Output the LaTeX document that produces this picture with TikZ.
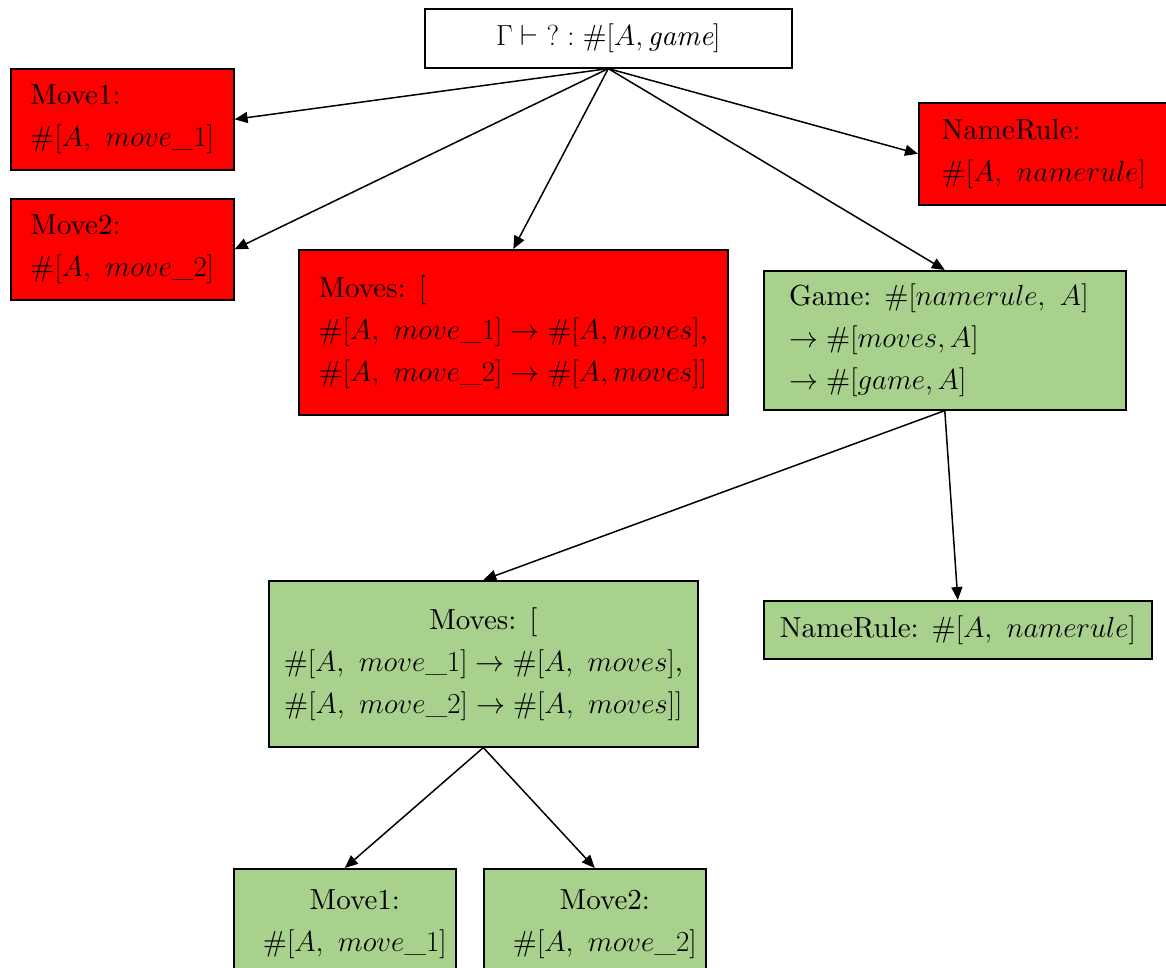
\documentclass[tikz,border=0pt]{standalone}
\usepackage{fix-cm}
\usepackage{fontspec}
\setmainfont{lmroman10-regular}[Extension=.otf, ItalicFont=lmroman10-italic, BoldFont=lmroman10-bold]
\usetikzlibrary{arrows.meta}
\definecolor{okgreen}{RGB}{169,209,142}
\begin{document}
\begin{tikzpicture}[x=1pt,y=-1pt,
  box/.style={draw=black, line width=1.6pt, rectangle, inner sep=0pt,
    anchor=north west, font=\fontsize{29}{42}\selectfont},
  redbox/.style={box, fill=red},
  greenbox/.style={box, fill=okgreen},
  link/.style={line width=1.5pt, -{Triangle[length=13pt,width=11pt]}}]
\useasboundingbox (0,0) rectangle (1166,967);

% goal
\node[box, fill=white, minimum width=367pt, minimum height=59pt] (goal) at (424,8)
  {$\Gamma\vdash {?} : \#[A, \mathit{game}]$};

% failed branches
\node[redbox, minimum width=223pt, minimum height=101pt, align=left] (m1r) at (10,68)
  {Move1:\\ $\#[A,\ move\_1]$};
\node[redbox, minimum width=223pt, minimum height=101pt, align=left] (m2r) at (10,198)
  {Move2:\\ $\#[A,\ move\_2]$};
\node[redbox, minimum width=429pt, minimum height=165pt, align=left] (msr) at (298,249)
  {Moves: [\\ $\#[A,\ move\_1] \rightarrow \#[A, moves]$,\\ $\#[A,\ move\_2] \rightarrow \#[A, moves]]$};
\node[redbox, minimum width=260pt, minimum height=102pt, align=left] (nrr) at (918,102)
  {NameRule:\\ $\#[A,\ namerule]$\hspace*{10pt}};

% successful branches
\node[greenbox, minimum width=362pt, minimum height=139pt, align=left] (game) at (763,270)
  {Game: $\#\bigl[namerule,\ A\bigr]$\hspace*{12pt}\\ $\rightarrow \#[moves, A]$\\ $\rightarrow \#[game, A]$};
\node[greenbox, minimum width=429pt, minimum height=166pt, align=center] (msg) at (268,580)
  {Moves: [\\ $\#[A,\ move\_1] \rightarrow \#\bigl[A,\ moves\bigr]$,\\ $\#[A,\ move\_2] \rightarrow \#\bigl[A,\ moves\bigr]]$};
\node[greenbox, minimum width=388pt, minimum height=58pt] (nrg) at (763,600)
  {NameRule: $\#[A,\ namerule]$};
\node[greenbox, minimum width=222pt, minimum height=110pt, align=center] (m1g) at (233,868)
  {\hspace*{20pt}Move1:\\ \hspace*{20pt}$\#[A,\ move\_1]$};
\node[greenbox, minimum width=222pt, minimum height=110pt, align=center] (m2g) at (483,868)
  {\hspace*{20pt}Move2:\\ \hspace*{20pt}$\#[A,\ move\_2]$};

% connectors
\draw[link] (goal.south) -- (m1r.east);
\draw[link] (goal.south) -- (m2r.east);
\draw[link] (goal.south) -- (msr.north);
\draw[link] (goal.south) -- (nrr.west);
\draw[link] (goal.south) -- (game.north);
\draw[link] (game.south) -- (msg.north);
\draw[link] (game.south) -- (nrg.north);
\draw[link] (msg.south) -- (m1g.north);
\draw[link] (msg.south) -- (m2g.north);
\end{tikzpicture}
\end{document}
